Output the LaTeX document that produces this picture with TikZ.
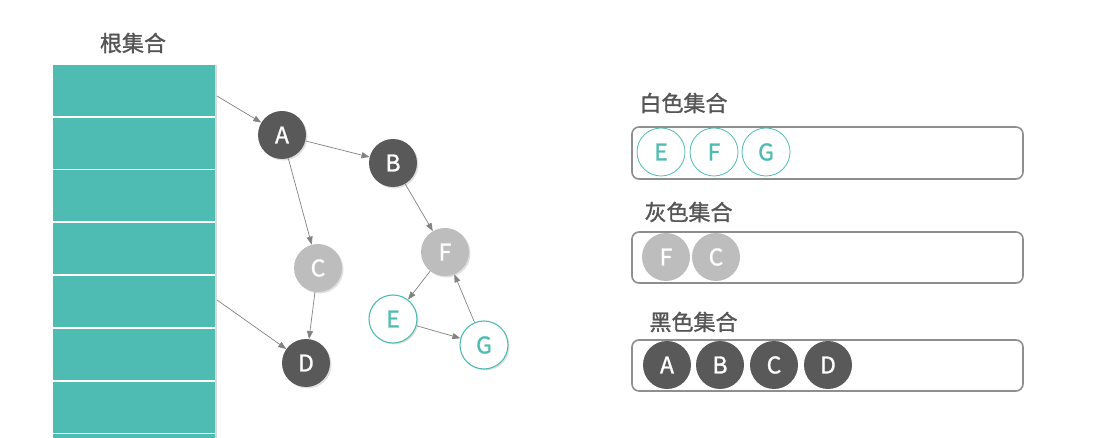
\documentclass[tikz,border=0pt]{standalone}
\usepackage{fontspec}
\setmainfont{Noto Sans CJK SC}[FakeBold=1.2]
\usetikzlibrary{arrows.meta,shadows}
\definecolor{rootteal}{RGB}{78,188,178}
\definecolor{darknode}{RGB}{89,89,89}
\definecolor{lightnode}{RGB}{189,189,189}
\definecolor{edgegray}{RGB}{130,130,130}
\definecolor{textgray}{RGB}{85,85,85}
\tikzset{
  gcnode/.style={circle, minimum size=48pt, inner sep=0pt, font=\fontsize{23}{23}\selectfont},
  blacknode/.style={gcnode, fill=darknode, text=white},
  graynode/.style={gcnode, fill=lightnode, text=white},
  whitenode/.style={gcnode, fill=white, draw=rootteal, line width=1.1pt, text=rootteal},
  nodeshadow/.style={drop shadow={opacity=0.25, shadow xshift=1.5pt, shadow yshift=-1.5pt}},
  ref/.style={-{Triangle[length=8pt,width=6pt]}, draw=edgegray, line width=0.7pt},
  setbox/.style={draw=edgegray!90, line width=1.6pt, rounded corners=7pt},
  settitle/.style={text=textgray, font=\fontsize{22}{22}\selectfont}
}
\begin{document}
\begin{tikzpicture}[x=1pt,y=-1pt]
        \useasboundingbox (0,0) rectangle (1093,438);

        % Root set column
        \fill[rootteal, drop shadow={opacity=0.3, shadow xshift=2pt, shadow yshift=0pt}] (53,65) rectangle (215,438);
        \foreach \y in {117,169.5,222,275,328,381,433.5} {
            \draw[white, line width=1.5pt] (53,\y) -- (215,\y);
        }
        \node[settitle] (roottitle) at (133,43) {根集合};
        \coordinate (r1) at (217,96);
        \coordinate (r2) at (217,300);

        % Object graph
        \node[blacknode, nodeshadow] (a) at (282,135) {A};
        \node[blacknode, nodeshadow] (b) at (393,163) {B};
        \node[graynode, nodeshadow] (c) at (318,268) {C};
        \node[blacknode, nodeshadow] (d) at (306,363) {D};
        \node[graynode, nodeshadow] (f) at (445,252) {F};
        \node[whitenode, nodeshadow] (e) at (393,319) {E};
        \node[whitenode, nodeshadow] (g) at (484,345) {G};

        % References
        \draw[ref] (r1) -- (a);
        \draw[ref] (r2) -- (d);
        \draw[ref] (a) -- (b);
        \draw[ref] (a) -- (c);
        \draw[ref] (c) -- (d);
        \draw[ref] (b) -- (f);
        \draw[ref] (f) -- (e);
        \draw[ref] (e) -- (g);
        \draw[ref] (g) -- (f);

        % White set
        \node[settitle, anchor=west] (whitetitle) at (636,103) {白色集合};
        \draw[setbox] (632,127) rectangle (1023,179);
        \foreach \n/\x in {E/661,F/714,G/766} {
            \node[whitenode, line width=0.8pt] (w\n) at (\x,152) {\n};
        }

        % Gray set
        \node[settitle, anchor=west] (graytitle) at (641,212) {灰色集合};
        \draw[setbox] (632,232) rectangle (1023,283);
        \foreach \n/\x in {F/666,C/716} {
            \node[graynode] (g\n) at (\x,257) {\n};
        }

        % Black set
        \node[settitle, anchor=west] (blacktitle) at (646,322) {黑色集合};
        \draw[setbox] (632,340) rectangle (1023,391);
        \foreach \n/\x in {A/667,B/720,C/774,D/828} {
            \node[blacknode] (k\n) at (\x,365) {\n};
        }
    \end{tikzpicture}
\end{document}
